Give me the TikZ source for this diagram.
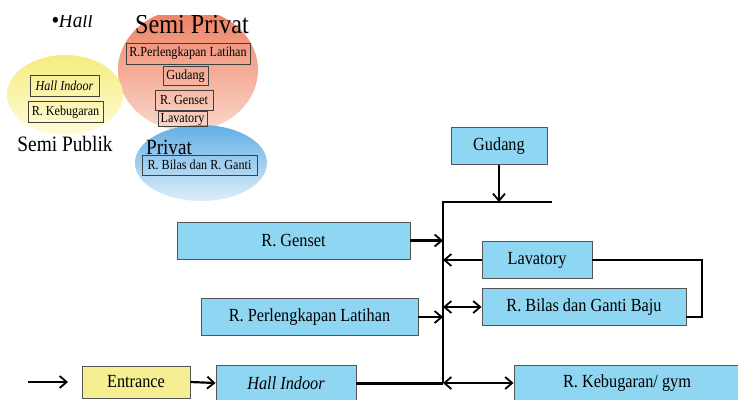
\documentclass[tikz,border=0pt]{standalone}
\usepackage{fontspec}
\setmainfont[FakeStretch=0.88]{Liberation Serif}
\usetikzlibrary{arrows.meta,positioning}
\definecolor{boxblue}{HTML}{8FD6F3}
\definecolor{boxyellow}{HTML}{F6EE92}
\definecolor{edge}{HTML}{555555}
\definecolor{orTop}{HTML}{EE7F62}
\definecolor{orBot}{HTML}{FAD8CB}
\definecolor{yeTop}{HTML}{F5EC7E}
\definecolor{yeBot}{HTML}{FFFCDA}
\definecolor{blTop}{HTML}{62AEE4}
\definecolor{blBot}{HTML}{DCEEFA}
\tikzset{
  room/.style={draw=edge, line width=0.9pt, fill=boxblue, minimum height=37pt, inner sep=0pt, font=\fontsize{18.5}{20}\selectfont},
  mini/.style={draw=black!75, line width=0.9pt, inner sep=0pt, font=\fontsize{13.8}{15}\selectfont},
  tip/.tip={Straight Barb[length=7pt,width=12pt,line width=1.8pt]},
  link/.style={line width=2.2pt, -tip},
  dlink/.style={line width=2.2pt, tip-tip},
  bar/.style={line width=2.6pt},
}
\begin{document}
\begin{tikzpicture}[x=1pt,y=-1pt]
\useasboundingbox (0,0) rectangle (738,399);
% --- zoning diagram ---
\begin{scope}
\clip (0,15) rectangle (300,215);
\shade[top color=orTop, bottom color=orBot] (188,70) ellipse [x radius=70, y radius=61];
\shade[top color=yeTop, bottom color=yeBot] (65,95) ellipse [x radius=58, y radius=40];
\shade[top color=blTop, bottom color=blBot] (201,163) ellipse [x radius=66, y radius=38];
\node[font=\fontsize{21.8}{24}\selectfont, anchor=base west, inner sep=0pt] (hall) at (52,27) {\textbf{•}\textit{Hall}};
\node[font=\fontsize{27.5}{30}\selectfont, anchor=base, inner sep=0pt] (semiprivat) at (192,33) {Semi Privat};
\end{scope}
\node[mini, minimum width=124pt, minimum height=21pt] (m1) at (188,53.5) {R.Perlengkapan Latihan};
\node[mini, minimum width=45pt, minimum height=19pt] (m2) at (185.5,76) {Gudang};
\node[mini, minimum width=58pt, minimum height=20pt] (m3) at (184,100) {R. Genset};
\node[mini, minimum width=49pt, minimum height=15pt] (m4) at (182.5,119) {Lavatory};
\node[mini, minimum width=69pt, minimum height=21pt, font=\fontsize{13.8}{15}\selectfont\itshape] (m5) at (64.5,85.5) {Hall Indoor};
\node[mini, minimum width=75pt, minimum height=21pt] (m6) at (65.5,112) {R. Kebugaran};
\node[font=\fontsize{22}{24}\selectfont, anchor=base, inner sep=0pt] (semipublik) at (65,151) {Semi Publik};
\node[font=\fontsize{21.7}{24}\selectfont, anchor=base west, inner sep=0pt] (privat) at (146,154) {Privat};
\node[mini, minimum width=115pt, minimum height=20pt] (m7) at (199.5,165) {R. Bilas dan R. Ganti};
% --- flow diagram ---
\node[room, minimum width=96pt] (gudang) at (499,146) {Gudang};
\node[room, minimum width=233pt] (genset) at (293.5,240.5) {R. Genset};
\node[room, minimum width=110pt] (lavatory) at (537,260) {Lavatory};
\node[room, minimum width=204pt] (bilas) at (584,307) {R. Bilas dan Ganti Baju};
\node[room, minimum width=217pt] (perl) at (309.5,317) {R. Perlengkapan Latihan};
\node[room, minimum width=108pt, minimum height=32pt, fill=boxyellow] (entrance) at (136,382) {Entrance};
\node[room, minimum width=140pt, minimum height=35pt, font=\fontsize{18.5}{20}\selectfont\itshape] (hallin) at (286,383) {Hall Indoor};
\node[room, minimum width=226pt, minimum height=35pt] (gym) at (627,383) {R. Kebugaran/ gym};
\coordinate (tl) at (443,202);
\coordinate (tr) at (552,202);
\coordinate (bot) at (443,383);
\coordinate (start) at (28,382);
\coordinate (corner) at (702,317);
\draw[bar] (tr) -- (tl) -- (bot);
\draw[link] (gudang.south) -- (gudang.south |- tl);
\draw[link] (genset.east) -- (genset.east -| tl);
\draw[link] (lavatory.west) -- (lavatory.west -| tl);
\draw[dlink] (bilas.west -| tl) -- (bilas.west);
\draw[link] (perl.east) -- (perl.east -| tl);
\draw[link] (start) -- ++(40,0);
\draw[link] (entrance.east) -- (hallin.west);
\draw[line width=3pt] (hallin.east) -- (hallin.east -| tl);
\draw[dlink] (hallin.east -| tl) -- (gym.west);
\draw[bar] (lavatory.east) -| (corner) -- (corner -| bilas.east);
\end{tikzpicture}
\end{document}
